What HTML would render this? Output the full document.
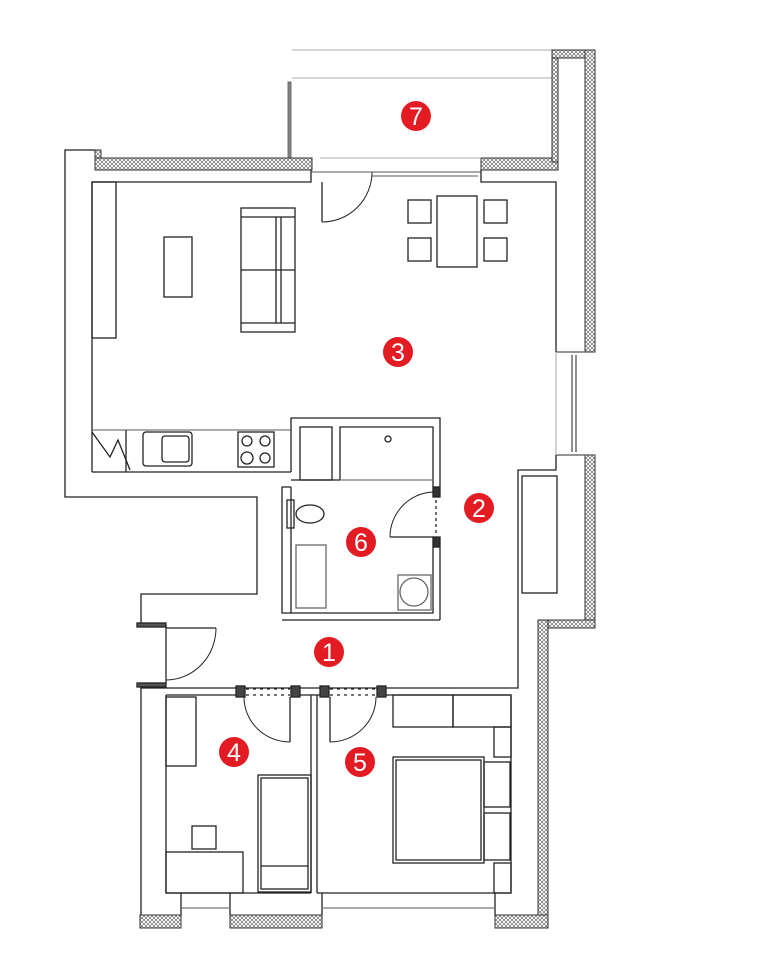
<!DOCTYPE html>
<html><head><meta charset="utf-8"><style>
html,body{margin:0;padding:0;background:#fff;width:758px;height:956px;overflow:hidden}
svg{display:block}
text{font-family:"Liberation Sans",sans-serif;font-size:25px;fill:#fff;text-anchor:middle}
</style></head><body>
<svg width="758" height="956" viewBox="0 0 758 956" xmlns="http://www.w3.org/2000/svg">
<defs>
<pattern id="h" width="4" height="4" patternUnits="userSpaceOnUse">
<rect width="4" height="4" fill="#fff"/>
<path d="M0 0L4 4M4 0L0 4" stroke="#555" stroke-width="0.6"/>
</pattern>
</defs>
<g fill="none" stroke="#222" stroke-width="1.3">
<line x1="292" y1="50" x2="552" y2="50" stroke="#bbb"/>
<line x1="292" y1="78" x2="552" y2="78" stroke="#bbb"/>
<rect x="288" y="82" width="3" height="76" fill="#888" stroke="#555" stroke-width="0.8"/>
<line x1="320" y1="158" x2="480" y2="158" stroke="#bbb"/>
<g fill="url(#h)" stroke="#333" stroke-width="1">
<rect x="95" y="158" width="217" height="12"/>
<rect x="95" y="150" width="6" height="8"/>
<rect x="481" y="158" width="77" height="12"/>
<rect x="552" y="52" width="6" height="110"/>
<rect x="552" y="50" width="43" height="8"/>
<rect x="585" y="50" width="10" height="302"/>
<rect x="585" y="455" width="10" height="173"/>
<rect x="538" y="620" width="57" height="8"/>
<rect x="538" y="620" width="10" height="308"/>
<rect x="140" y="915" width="41" height="13"/>
<rect x="230" y="915" width="92" height="13"/>
<rect x="495" y="915" width="53" height="13"/>
</g>
<polyline points="95,150 65,150 65,497 257,497 257,594 141,594 141,623"/>
<line x1="141" y1="683" x2="141" y2="915"/>
<line x1="92" y1="182" x2="92" y2="472"/>
<polyline points="92,182 311,182 311,170"/>
<polyline points="481,170 481,182 556,182 556,352"/>
<line x1="92" y1="472" x2="291" y2="472"/>
<line x1="92" y1="430" x2="291" y2="430" stroke="#777"/>
<line x1="311" y1="172" x2="481" y2="172" stroke="#555" stroke-width="1"/>
<line x1="372" y1="176" x2="478" y2="176" stroke="#555" stroke-width="1"/>
<line x1="556" y1="352" x2="595" y2="352" stroke="#555"/>
<line x1="556" y1="455" x2="595" y2="455" stroke="#555"/>
<line x1="572" y1="355" x2="572" y2="452" stroke="#555"/>
<line x1="576" y1="355" x2="576" y2="452" stroke="#555"/>
<line x1="556" y1="352" x2="556" y2="455" stroke="#bbb"/>
<polyline points="556,455 556,470 518,470 518,688 141,688"/>
<rect x="522" y="476" width="35" height="117"/>
<line x1="322" y1="182" x2="322" y2="222"/>
<path d="M322 222 A50 50 0 0 0 372 172" stroke-width="1"/>
<rect x="92" y="182" width="24" height="156"/>
<rect x="164" y="237" width="28" height="60"/>
<rect x="241" y="208" width="54" height="124"/>
<line x1="241" y1="217" x2="295" y2="217"/><line x1="241" y1="323" x2="295" y2="323"/>
<line x1="241" y1="270" x2="295" y2="270"/>
<line x1="276" y1="217" x2="276" y2="323"/><line x1="281" y1="217" x2="281" y2="323"/>
<rect x="437" y="196" width="40" height="71"/>
<rect x="408" y="200" width="23" height="23"/><rect x="408" y="238" width="23" height="23"/>
<rect x="484" y="200" width="23" height="23"/><rect x="484" y="238" width="23" height="23"/>
<line x1="126" y1="430" x2="126" y2="472"/>
<polyline points="92,432 110,457 118,440 130,470"/>
<rect x="143" y="432" width="49" height="34" rx="3"/>
<rect x="162" y="436" width="27" height="26" rx="3"/>
<rect x="238" y="432" width="36" height="35"/>
<circle cx="247" cy="441" r="5"/><circle cx="265" cy="441" r="5"/>
<circle cx="247" cy="458" r="6"/><circle cx="265" cy="458" r="5"/>
<polyline points="291,472 291,418 440,418 440,487"/>
<rect x="300" y="427" width="32" height="53"/>
<polyline points="340,480 340,427 433,427 433,487"/>
<line x1="340" y1="480" x2="433" y2="480" stroke="#777"/>
<circle cx="388" cy="439" r="3"/>
<polyline points="291,487 282,487 282,613 433,613 433,547"/>
<line x1="440" y1="547" x2="440" y2="620"/>
<line x1="282" y1="620" x2="440" y2="620"/>
<line x1="291" y1="487" x2="291" y2="613"/>
<line x1="291" y1="480" x2="340" y2="480"/>
<rect x="433" y="487" width="7" height="10" fill="#333"/>
<rect x="433" y="537" width="7" height="10" fill="#333"/>
<line x1="436" y1="500" x2="436" y2="535" stroke-dasharray="3,3"/>
<line x1="433" y1="537" x2="390" y2="537"/>
<path d="M390 537 A45 45 0 0 1 433 492" stroke-width="1"/>
<rect x="296" y="545" width="30" height="63" stroke="#666"/>
<rect x="398" y="575" width="33" height="35" stroke="#666"/>
<circle cx="414" cy="592" r="14" stroke="#666"/>
<ellipse cx="310" cy="514" rx="14" ry="9"/>
<rect x="287" y="500" width="7" height="28"/>
<rect x="137" y="623" width="29" height="4" fill="#555"/>
<rect x="137" y="683" width="29" height="4" fill="#555"/>
<line x1="166" y1="627" x2="166" y2="683"/>
<line x1="166" y1="628" x2="216" y2="628"/>
<path d="M216 628 A50 52 0 0 1 166 680" stroke-width="1"/>
<line x1="166" y1="695" x2="236" y2="695"/>
<line x1="300" y1="695" x2="320" y2="695"/>
<line x1="386" y1="695" x2="511" y2="695"/>
<line x1="166" y1="695" x2="166" y2="893"/>
<line x1="311" y1="695" x2="311" y2="893"/>
<line x1="317" y1="695" x2="317" y2="893"/>
<line x1="511" y1="695" x2="511" y2="893"/>
<line x1="166" y1="893" x2="311" y2="893"/>
<line x1="317" y1="893" x2="511" y2="893"/>
<polyline points="181,893 181,915"/><polyline points="230,893 230,915"/>
<polyline points="322,893 322,915"/><polyline points="495,893 495,915"/>
<line x1="181" y1="908" x2="230" y2="908" stroke="#777"/>
<line x1="322" y1="908" x2="495" y2="908" stroke="#777"/>
<g fill="#444"><rect x="236" y="686" width="9" height="11"/><rect x="291" y="686" width="9" height="11"/>
<rect x="320" y="686" width="9" height="11"/><rect x="377" y="686" width="9" height="11"/></g>
<line x1="246" y1="689" x2="290" y2="689" stroke-dasharray="3,4"/>
<line x1="246" y1="695" x2="290" y2="695" stroke-dasharray="3,4"/>
<line x1="330" y1="689" x2="376" y2="689" stroke-dasharray="3,4"/>
<line x1="330" y1="695" x2="376" y2="695" stroke-dasharray="3,4"/>
<line x1="290" y1="697" x2="290" y2="742"/>
<path d="M244 697 A46 45 0 0 0 290 742" stroke-width="1"/>
<line x1="330" y1="697" x2="330" y2="742"/>
<path d="M376 697 A46 45 0 0 1 330 742" stroke-width="1"/>
<rect x="166" y="697" width="30" height="69"/>
<rect x="258" y="775" width="53" height="117"/>
<rect x="261" y="778" width="47" height="111"/>
<line x1="261" y1="866" x2="308" y2="866"/>
<rect x="166" y="852" width="77" height="41"/>
<rect x="192" y="826" width="24" height="23"/>
<rect x="393" y="695" width="60" height="32"/>
<rect x="453" y="695" width="58" height="32"/>
<rect x="494" y="727" width="17" height="30"/>
<rect x="393" y="757" width="91" height="106"/>
<rect x="396" y="760" width="85" height="100"/>
<rect x="484" y="762" width="26" height="45"/>
<rect x="484" y="813" width="26" height="47"/>
<rect x="494" y="863" width="17" height="30"/>
</g>
<g>
<circle cx="416" cy="116" r="15" fill="#e31b23"/><text x="416" y="125">7</text>
<circle cx="398" cy="352" r="15" fill="#e31b23"/><text x="398" y="361">3</text>
<circle cx="479" cy="508" r="15" fill="#e31b23"/><text x="479" y="517">2</text>
<circle cx="361" cy="542" r="15" fill="#e31b23"/><text x="361" y="551">6</text>
<circle cx="329" cy="652" r="15" fill="#e31b23"/><text x="329" y="661">1</text>
<circle cx="234" cy="752" r="15" fill="#e31b23"/><text x="234" y="761">4</text>
<circle cx="360" cy="762" r="15" fill="#e31b23"/><text x="360" y="771">5</text>
</g>
</svg>
</body></html>
